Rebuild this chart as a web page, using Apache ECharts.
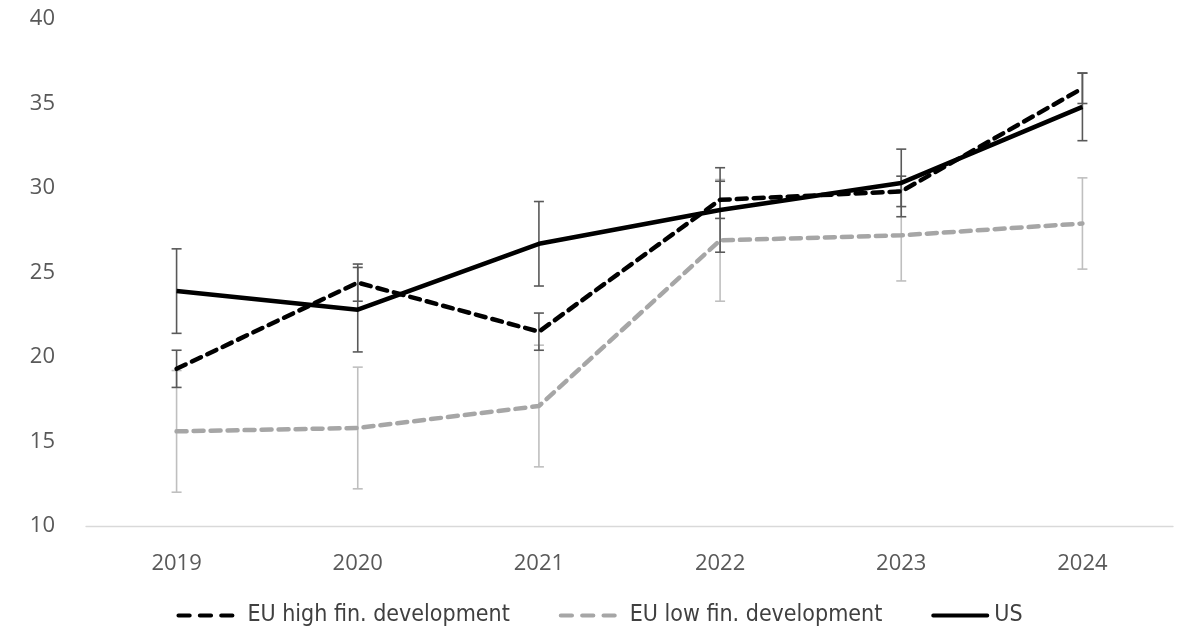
<!DOCTYPE html>
<html><head><meta charset="utf-8">
<script src="https://cdn.jsdelivr.net/npm/echarts@6/dist/echarts.min.js"></script>
<style>html,body{margin:0;padding:0;background:#fff}#c{width:1199px;height:639px}</style>
</head><body><div id="c"></div>
<script>
const years = ['2019','2020','2021','2022','2023','2024'];
const euHigh = [19.3, 24.4, 21.5, 29.3, 29.8, 35.9];
const euHighErr = [1.1, 1.1, 1.1, 1.1, 0.9, 0.9];
const euLow = [15.6, 15.8, 17.1, 26.9, 27.2, 27.9];
const euLowErr = [3.6, 3.6, 3.6, 3.6, 2.7, 2.7];
const us = [23.9, 22.8, 26.7, 28.7, 30.3, 34.8];
const usErr = [2.5, 2.5, 2.5, 2.5, 2.0, 2.0];

function errData(vals, errs){ return vals.map((v,i)=>[i, v-errs[i], v+errs[i]]); }
function errSeries(vals, errs, color, z){
  return {
    type:'custom', silent:true, z:z,
    data: errData(vals, errs),
    renderItem: function(params, api){
      const lo = api.coord([api.value(0), api.value(1)]);
      const hi = api.coord([api.value(0), api.value(2)]);
      const hw = 5;
      const st = {stroke:color, lineWidth:1.6};
      return {type:'group', children:[
        {type:'line', shape:{x1:hi[0],y1:hi[1],x2:lo[0],y2:lo[1]}, style:st},
        {type:'line', shape:{x1:hi[0]-hw,y1:hi[1],x2:hi[0]+hw,y2:hi[1]}, style:st},
        {type:'line', shape:{x1:lo[0]-hw,y1:lo[1],x2:lo[0]+hw,y2:lo[1]}, style:st}
      ]};
    }
  };
}

const dashIcon = 'path://M2,0h11a2,2 0 0 1 0,4h-11a2,2 0 0 1 0,-4z M23,0h11a2,2 0 0 1 0,4h-11a2,2 0 0 1 0,-4z M44,0h11a2,2 0 0 1 0,4h-11a2,2 0 0 1 0,-4z';
const solidIcon = 'path://M2,0h56a2,2 0 0 1 0,4h-56a2,2 0 0 1 0,-4z';
const legendFont = {fontFamily:'Liberation Sans Narrow, DejaVu Sans Condensed, sans-serif', fontSize:23, color:'#404040'};

const chart = echarts.init(document.getElementById('c'));
chart.setOption({
  animation:false,
  grid:{left:86, right:26, top:19, bottom:113},
  legend:{
    data:[
      {name:'EU high fin. development', icon:dashIcon, textStyle:Object.assign({padding:[0,0,0,8]}, legendFont)},
      {name:'EU low fin. development', icon:dashIcon, textStyle:Object.assign({padding:[0,0,0,8]}, legendFont)},
      {name:'US', icon:solidIcon, textStyle:Object.assign({padding:[0,0,0,0]}, legendFont)}
    ],
    bottom:7, itemWidth:58, itemHeight:5, itemGap:49,
    textStyle:legendFont
  },
  xAxis:{
    type:'category', data:years, boundaryGap:true,
    axisLine:{lineStyle:{color:'#d9d9d9', width:1.3}},
    axisTick:{show:false},
    axisLabel:{fontFamily:'Open Sans', fontSize:22, color:'#595959', margin:27}
  },
  yAxis:{
    type:'value', min:10, max:40, interval:5,
    axisLine:{show:false}, axisTick:{show:false}, splitLine:{show:false},
    axisLabel:{fontFamily:'Open Sans', fontSize:22, color:'#595959', margin:31}
  },
  series:[
    errSeries(euLow, euLowErr, '#bfbfbf', 1),
    errSeries(us, usErr, '#595959', 2),
    errSeries(euHigh, euHighErr, '#595959', 2),
    {name:'EU low fin. development', type:'line', data:euLow, symbol:'none', z:3,
     lineStyle:{color:'#a6a6a6', width:4.5, type:[10,7], cap:'round'}, itemStyle:{color:'#a6a6a6'}},
    {name:'US', type:'line', data:us, symbol:'none', z:4,
     lineStyle:{color:'#000', width:4.5}, itemStyle:{color:'#000'}},
    {name:'EU high fin. development', type:'line', data:euHigh, symbol:'none', z:5,
     lineStyle:{color:'#000', width:4.5, type:[10,7], cap:'round'}, itemStyle:{color:'#000'}}
  ]
});
</script></body></html>
